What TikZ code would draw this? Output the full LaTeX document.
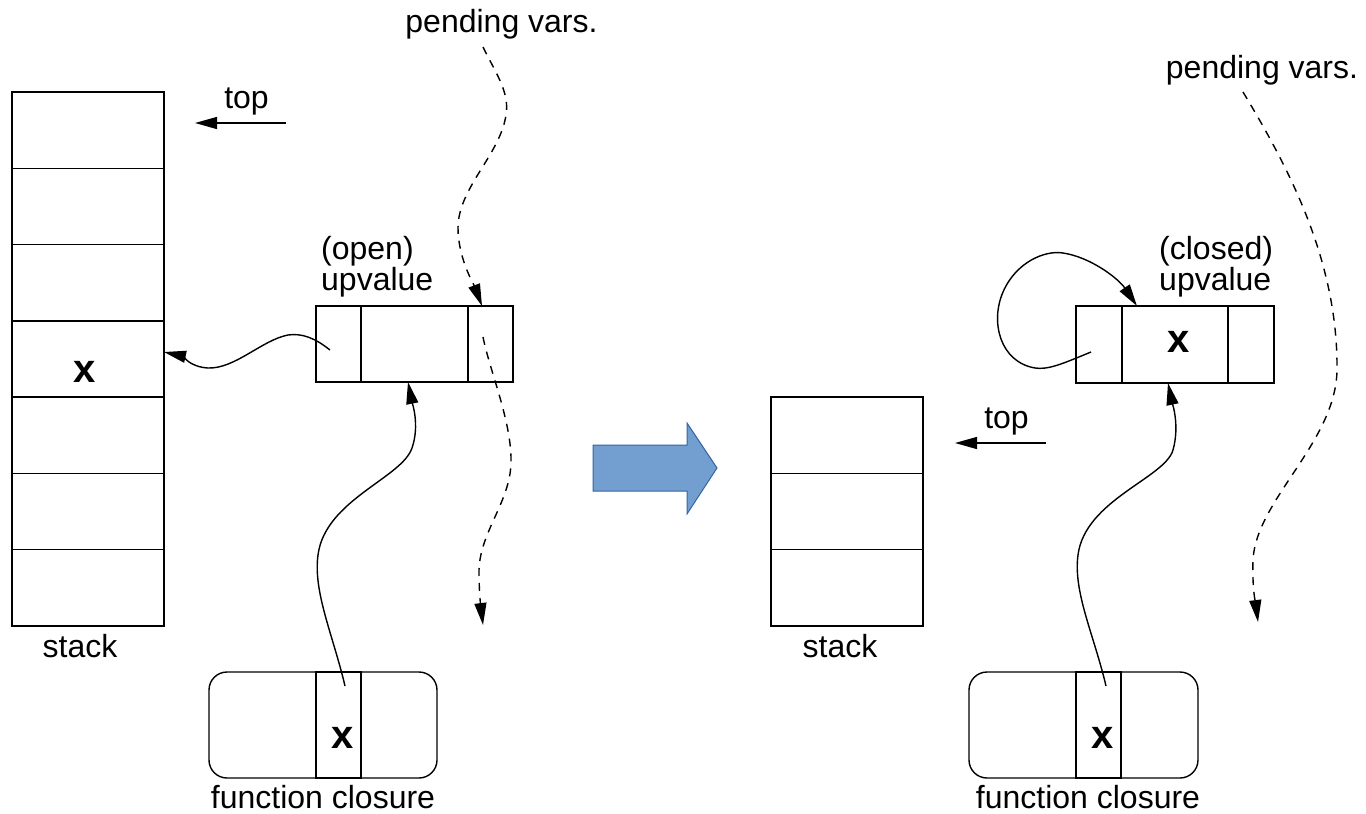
\documentclass[tikz,border=0pt]{standalone}
\usepackage{fontspec}
\setmainfont{Liberation Sans}
\usetikzlibrary{arrows.meta}
\definecolor{arrowfill}{HTML}{729FCF}
\definecolor{arrowline}{HTML}{3465A4}
\begin{document}
\begin{tikzpicture}[x=1pt,y=-1pt,
  box/.style={draw, line width=1.4pt, inner sep=0pt, outer sep=0pt},
  lbl/.style={inner sep=0pt, font=\fontsize{32}{32}\selectfont, anchor=base},
  lblw/.style={lbl, anchor=base west},
  bigx/.style={inner sep=0pt, font=\fontsize{40}{40}\selectfont\bfseries, anchor=base},
  link/.style={line width=1.4pt, -{Triangle[length=22pt,width=12pt]}},
  pend/.style={link, dash pattern=on 8pt off 7pt},
]
\useasboundingbox (0,0) rectangle (1366,814);

% ---------- left side ----------
\foreach \i in {1,...,7}
  \node[box, minimum width=152pt, minimum height=76.29pt] (s\i) at (88,{92+76.29*(\i-0.5)}) {};
\node[bigx] (sx) at (85,382) {x};
\node[lbl] (stackL) at (80,657) {stack};

\node[lbl] (topL) at (246.5,108) {top};
\coordinate (tLa) at (286,123);
\coordinate (tLb) at (195,123);
\draw[link] (tLa) -- (tLb);

\node[box, minimum width=45pt, minimum height=76pt] (ou1) at (338.5,344) {};
\node[box, minimum width=107pt, minimum height=76pt] (ou2) at (414.5,344) {};
\node[box, minimum width=45pt, minimum height=76pt] (ou3) at (490.5,344) {};
\node[lblw] (openA) at (321,259) {(open)};
\node[lblw] (openB) at (321,290) {upvalue};

\node[box, rounded corners=18pt, minimum width=228pt, minimum height=106pt] (fc1) at (323,725) {};
\node[box, minimum width=45pt, minimum height=106pt] (fx1) at (338.5,725) {};
\node[bigx] (fxl) at (343,748) {x};
\node[lbl] (fcL) at (323,808) {function closure};

\node[lbl] (pvL) at (501.5,32) {pending vars.};

% connectors left
\coordinate (a1) at (330,350);
\draw[link] (a1) .. controls (315,338) and (302,333) .. (288,335)
  .. controls (262,340) and (235,369) .. (208,368)
  .. controls (190,367) and (182,356) .. ([yshift=7pt]s4.east);

\coordinate (b1) at (345,686);
\draw[link] (b1) .. controls (333,635) and (313,592) .. (318,555)
  .. controls (325,500) and (402,478) .. (412,448)
  .. controls (420,425) and (412,402) .. ([xshift=-6.5pt]ou2.south);

\coordinate (p1) at (483,47);
\draw[pend] (p1) .. controls (495,72) and (510,92) .. (506,115)
  .. controls (500,155) and (458,188) .. (458,228)
  .. controls (458,258) and (474,285) .. ([xshift=-8.5pt]ou3.north);

\coordinate (q1) at (483,337);
\coordinate (q2) at (483,625);
\draw[pend] (q1) .. controls (490,372) and (512,422) .. (511,463)
  .. controls (510,502) and (480,532) .. (479,570)
  .. controls (479,595) and (481,608) .. (q2);

% ---------- big arrow ----------
\filldraw[fill=arrowfill, draw=arrowline, line width=1pt]
  (593,445) -- (687,445) -- (687,423) -- (717,468) -- (687,514) -- (687,491) -- (593,491) -- cycle;

% ---------- right side ----------
\foreach \i in {1,...,3}
  \node[box, minimum width=152pt, minimum height=76.33pt] (r\i) at (847,{397+76.33*(\i-0.5)}) {};
\node[lbl] (stackR) at (840,657) {stack};

\node[lbl] (topR) at (1006.5,428) {top};
\coordinate (tRa) at (1046,443);
\coordinate (tRb) at (955,443);
\draw[link] (tRa) -- (tRb);

\node[box, minimum width=46pt, minimum height=77pt] (cu1) at (1099,344.5) {};
\node[box, minimum width=106pt, minimum height=77pt] (cu2) at (1175,344.5) {};
\node[box, minimum width=46pt, minimum height=77pt] (cu3) at (1251,344.5) {};
\node[bigx] (cux) at (1179,352) {x};
\node[lblw] (closedA) at (1159,259) {(closed)};
\node[lblw] (closedB) at (1159,290) {upvalue};

\node[box, rounded corners=18pt, minimum width=229pt, minimum height=106pt] (fc2) at (1083.5,725) {};
\node[box, minimum width=45pt, minimum height=106pt] (fx2) at (1098.5,725) {};
\node[bigx] (fxr) at (1103,748) {x};
\node[lbl] (fcR) at (1088,808) {function closure};

\node[lbl] (pvR) at (1262,78) {pending vars.};

% connectors right
\coordinate (d1) at (1091,352);
\draw[link] (d1) .. controls (1062,364) and (1048,370) .. (1035,368)
  .. controls (1000,362) and (990,322) .. (1003,292)
  .. controls (1016,262) and (1045,250) .. (1063,253)
  .. controls (1090,257) and (1118,278) .. ([xshift=15pt]cu2.north west);

\coordinate (c1) at (1106,686);
\draw[link] (c1) .. controls (1094,635) and (1073,592) .. (1078,555)
  .. controls (1085,500) and (1165,478) .. (1173,450)
  .. controls (1180,425) and (1172,402) .. ([xshift=-7pt]cu2.south);

\coordinate (p3) at (1243,92);
\coordinate (p4) at (1258,622);
\draw[pend] (p3) .. controls (1290,170) and (1338,262) .. (1337,370)
  .. controls (1336,442) and (1256,500) .. (1253,560)
  .. controls (1252,590) and (1256,606) .. (p4);
\end{tikzpicture}
\end{document}
